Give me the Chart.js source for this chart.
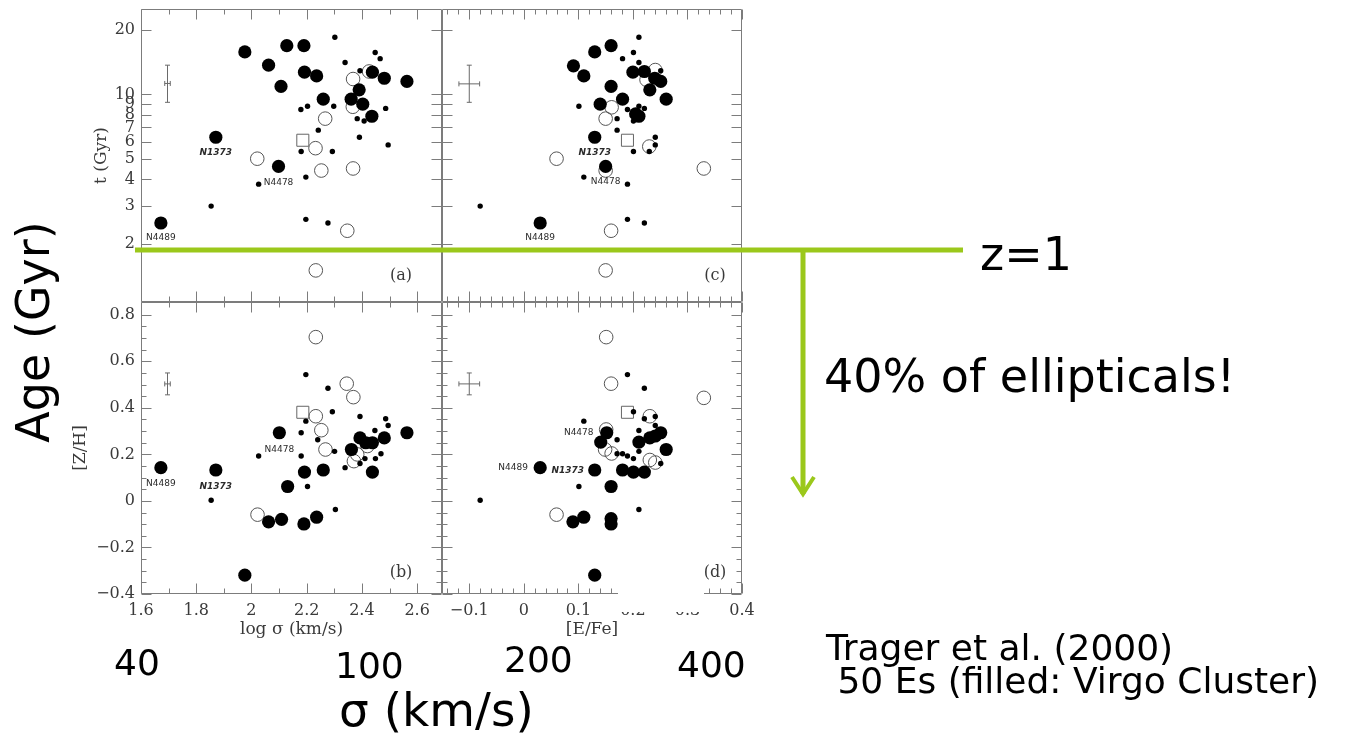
<!DOCTYPE html>
<html>
<head>
<meta charset="utf-8">
<title>Ages of ellipticals – Trager et al. (2000)</title>
<script src="https://cdn.jsdelivr.net/npm/chart.js@4.4.1/dist/chart.umd.min.js"></script>
<style>
  html, body { margin: 0; padding: 0; background: #fff; }
  #page { position: relative; width: 1345px; height: 738px; overflow: hidden; background: #fff; }
  canvas.panel { position: absolute; left: -50px; top: -50px; }
  #mask { position: absolute; left: 618px; top: 583px; width: 86px; height: 29px; background: #fff; }
  #overlay { position: absolute; left: 0; top: 0; }
  .note { position: absolute; font-family: 'DejaVu Sans', sans-serif; color: #000; line-height: 1; white-space: pre; }
</style>
</head>
<body>
<div id="page">
  <canvas id="panel-a" class="panel" width="1445" height="838"></canvas>
  <canvas id="panel-b" class="panel" width="1445" height="838"></canvas>
  <canvas id="panel-c" class="panel" width="1445" height="838"></canvas>
  <canvas id="panel-d" class="panel" width="1445" height="838"></canvas>
  <div id="mask"></div>
  <svg id="overlay" width="1345" height="738">
    <line id="z-line" x1="135" x2="963" stroke="#9bc81b" stroke-width="5"/>
    <line id="z-drop" x1="803" x2="803" y2="494" stroke="#9bc81b" stroke-width="5"/>
    <polyline id="z-head" points="792,477 803,494 814,477" fill="none" stroke="#9bc81b" stroke-width="4"/>
  </svg>
  <div class="note" style="left:980px;top:231px;font-size:46px">z=1</div>
  <div class="note" style="left:824px;top:353px;font-size:46px">40% of ellipticals!</div>
  <div class="note" style="left:826px;top:630px;font-size:36px">Trager et al. (2000)</div>
  <div class="note" style="left:826px;top:663px;font-size:36px"> 50 Es (filled: Virgo Cluster)</div>
  <div class="note" style="left:114px;top:645px;font-size:36px">40</div>
  <div class="note" style="left:335px;top:648px;font-size:36px">100</div>
  <div class="note" style="left:504px;top:642px;font-size:36px">200</div>
  <div class="note" style="left:677px;top:647px;font-size:36px">400</div>
  <div class="note" style="left:339px;top:686px;font-size:47px">σ (km/s)</div>
  <div class="note" style="left:33px;top:332px;font-size:46px;transform:translate(-50%,-50%) rotate(-90deg)">Age (Gyr)</div>
</div>

<script>
/* ─── Axis ticks ─────────────────────────────────────────────────────────── */

const LOGSIG_MAJOR  = [1.6, 1.8, 2.0, 2.2, 2.4, 2.6];
const LOGSIG_LABELS = ['1.6', '1.8', '2', '2.2', '2.4', '2.6'];
const LOGSIG_MINOR  = [1.7, 1.9, 2.1, 2.3, 2.5];

const EFE_MAJOR  = [-0.1, 0, 0.1, 0.2, 0.3, 0.4];
const EFE_LABELS = ['−0.1', '0', '0.1', '0.2', '0.3', '0.4'];
const EFE_MINOR  = [-0.14, -0.12, -0.08, -0.06, -0.04, -0.02, 0.02, 0.04, 0.06, 0.08,
                    0.12, 0.14, 0.16, 0.18, 0.22, 0.24, 0.26, 0.28, 0.32, 0.34, 0.36, 0.38];

const AGE_MAJOR  = [2, 3, 4, 5, 6, 7, 8, 9, 10, 20];
const AGE_LABELS = ['2', '3', '4', '5', '6', '7', '8', '9', '10', '20'];

const ZH_MAJOR  = [-0.4, -0.2, 0, 0.2, 0.4, 0.6, 0.8];
const ZH_LABELS = ['−0.4', '−0.2', '0', '0.2', '0.4', '0.6', '0.8'];
const ZH_MINOR  = [-0.35, -0.3, -0.25, -0.15, -0.1, -0.05, 0.05, 0.1, 0.15, 0.25, 0.3, 0.35,
                   0.45, 0.5, 0.55, 0.65, 0.7, 0.75];

/* ─── Data: (a) log sigma vs age ─────────────────────────────────────────── */

const A_BIG = [[1.976, 15.8], [2.062, 13.7], [2.107, 10.9], [2.128, 16.9], [2.190, 16.9], [2.192, 12.7],
               [2.236, 12.2], [2.260, 9.5], [2.361, 9.5], [2.390, 10.5], [2.403, 9.0], [2.436, 7.9],
               [2.438, 12.7], [2.481, 11.9], [2.563, 11.5], [1.871, 6.3], [2.098, 4.6], [1.672, 2.5]];
const A_SMALL = [[2.302, 18.5], [2.448, 15.7], [2.466, 14.7], [2.339, 14.1], [2.393, 12.9], [2.179, 8.5],
                 [2.203, 8.8], [2.298, 8.8], [2.486, 8.6], [2.383, 7.7], [2.408, 7.5], [2.242, 6.8],
                 [2.391, 6.3], [2.495, 5.8], [2.180, 5.4], [2.293, 5.4], [2.197, 4.1], [2.026, 3.8],
                 [1.854, 3.0], [2.197, 2.6], [2.277, 2.5]];
const A_OPEN = [[2.368, 11.8], [2.426, 12.8], [2.367, 8.75], [2.267, 7.7], [2.232, 5.6], [2.021, 5.0],
                [2.253, 4.4], [2.368, 4.5], [2.347, 2.3], [2.233, 1.5]];
const A_SQUARE = [[2.186, 6.1]];

/* ─── Data: (b) log sigma vs [Z/H] ───────────────────────────────────────── */

const B_BIG = [[1.672, 0.143], [1.871, 0.133], [2.101, 0.293], [2.131, 0.062], [2.062, -0.090], [2.109, -0.079],
               [2.190, -0.099], [2.236, -0.070], [2.192, 0.124], [2.260, 0.133], [1.976, -0.319], [2.362, 0.221],
               [2.393, 0.271], [2.414, 0.250], [2.438, 0.250], [2.481, 0.271], [2.438, 0.124], [2.563, 0.293]];
const B_SMALL = [[2.197, 0.543], [2.277, 0.484], [2.293, 0.383], [2.197, 0.343], [2.180, 0.293], [2.240, 0.263],
                 [2.180, 0.193], [2.026, 0.193], [2.301, 0.213], [2.203, 0.062], [1.854, 0.003], [2.304, -0.037],
                 [2.393, 0.363], [2.486, 0.353], [2.495, 0.324], [2.447, 0.303], [2.469, 0.203], [2.449, 0.182],
                 [2.411, 0.182], [2.393, 0.161], [2.339, 0.143]];
const B_OPEN = [[2.233, 0.704], [2.345, 0.504], [2.369, 0.446], [2.233, 0.364], [2.253, 0.304], [2.268, 0.221],
                [2.371, 0.171], [2.383, 0.200], [2.022, -0.059], [2.420, 0.236]];
const B_SQUARE = [[2.186, 0.381]];

/* ─── Data: (c) [E/Fe] vs age ────────────────────────────────────────────── */

const C_BIG = [[0.091, 13.6], [0.110, 12.2], [0.130, 15.8], [0.160, 16.9], [0.160, 10.9], [0.140, 9.0],
               [0.181, 9.5], [0.200, 12.7], [0.221, 12.8], [0.240, 11.9], [0.251, 11.5], [0.231, 10.5],
               [0.261, 9.5], [0.211, 7.9], [0.130, 6.3], [0.150, 4.6], [0.030, 2.5], [0.205, 8.1]];
const C_SMALL = [[0.211, 18.5], [0.201, 15.7], [0.181, 14.7], [0.211, 14.1], [0.251, 12.9], [0.101, 8.8],
                 [0.190, 8.5], [0.211, 8.8], [0.221, 8.6], [0.171, 7.7], [0.201, 7.5], [0.171, 6.8],
                 [0.241, 6.3], [0.241, 5.8], [0.201, 5.4], [0.230, 5.4], [0.110, 4.1], [0.190, 3.8],
                 [-0.080, 3.0], [0.190, 2.6], [0.221, 2.5]];
const C_OPEN = [[0.241, 13.0], [0.225, 11.7], [0.161, 8.7], [0.150, 7.7], [0.230, 5.7], [0.060, 5.0],
                [0.150, 4.4], [0.330, 4.5], [0.160, 2.3], [0.150, 1.5]];
const C_SQUARE = [[0.190, 6.1]];

/* ─── Data: (d) [E/Fe] vs [Z/H] ──────────────────────────────────────────── */

const D_BIG = [[0.030, 0.143], [0.130, 0.133], [0.152, 0.293], [0.141, 0.253], [0.160, 0.062], [0.090, -0.090],
               [0.110, -0.070], [0.160, -0.076], [0.160, -0.099], [0.130, -0.319], [0.181, 0.133], [0.201, 0.124],
               [0.221, 0.124], [0.211, 0.253], [0.231, 0.271], [0.251, 0.293], [0.241, 0.279], [0.261, 0.221]];
const D_SMALL = [[0.190, 0.543], [0.221, 0.484], [0.201, 0.383], [0.221, 0.353], [0.241, 0.363], [0.110, 0.343],
                 [0.211, 0.303], [0.241, 0.324], [0.171, 0.263], [0.211, 0.213], [0.171, 0.203], [0.181, 0.203],
                 [0.190, 0.193], [0.201, 0.182], [0.251, 0.161], [0.101, 0.062], [-0.080, 0.003], [0.211, -0.037],
                 [0.226, 0.280]];
const D_OPEN = [[0.151, 0.704], [0.160, 0.504], [0.330, 0.443], [0.231, 0.364], [0.151, 0.307], [0.149, 0.221],
                [0.161, 0.204], [0.231, 0.176], [0.241, 0.165], [0.060, -0.059]];
const D_SQUARE = [[0.190, 0.381]];

/* ─── Typical error bars and the z = 1 age ───────────────────────────────── */

const ERR_A = { x: 1.696, y: 11.25, xLo: 1.686, xHi: 1.706, yLo: 9.18, yHi: 13.7 };
const ERR_B = { x: 1.696, y: 0.503, xLo: 1.686, xHi: 1.706, yLo: 0.456, yHi: 0.550 };
const ERR_C = { x: -0.100, y: 11.2, xLo: -0.119, xHi: -0.081, yLo: 9.18, yHi: 13.7 };
const ERR_D = { x: -0.100, y: 0.503, xLo: -0.119, xHi: -0.081, yLo: 0.456, yHi: 0.550 };

const Z1_AGE = 1.87;

/* ─── Styles ─────────────────────────────────────────────────────────────── */

const OFF        = 50;            // canvases overhang the page by this much
const AXIS_COLOR = '#7c7c7c';
const TEXT_COLOR = '#3a3a3a';
const SERIF      = "'DejaVu Serif', serif";
const LABEL_FONT = { family: SERIF, size: 16 };
const TITLE_FONT = { family: SERIF, size: 17 };

const STYLE_SMALL  = { pointRadius: 2.7, pointBackgroundColor: '#000', pointBorderWidth: 0, order: 0 };
const STYLE_BIG    = { pointRadius: 6.6, pointBackgroundColor: '#000', pointBorderWidth: 0, order: 1 };
const STYLE_SQUARE = { pointStyle: 'rect', pointRadius: 8.5, pointBackgroundColor: 'rgba(0,0,0,0)',
                       pointBorderColor: '#666', pointBorderWidth: 1, order: 2 };
const STYLE_OPEN   = { pointRadius: 6.8, pointBackgroundColor: 'rgba(0,0,0,0)',
                       pointBorderColor: '#555', pointBorderWidth: 1, order: 3 };

Chart.defaults.font.family = SERIF;
Chart.defaults.color = TEXT_COLOR;

/* ─── Panel descriptions (ticks, labels, tags) ───────────────────────────── */

const PANELS = {
  'panel-a': {
    xMajor: LOGSIG_MAJOR, xMinor: LOGSIG_MINOR, yMajor: AGE_MAJOR, yMinor: [],
    err: ERR_A, tag: { text: '(a)', dx: -41, dy: -26 },
    names: [
      { text: 'N1373', x: 1.871, y: 6.3, dx: 0, dy: 15, bold: true },
      { text: 'N4478', x: 2.098, y: 4.6, dx: 0, dy: 16 },
      { text: 'N4489', x: 1.672, y: 2.5, dx: 0, dy: 15 },
    ],
  },
  'panel-b': {
    xMajor: LOGSIG_MAJOR, xMinor: LOGSIG_MINOR, yMajor: ZH_MAJOR, yMinor: ZH_MINOR,
    err: ERR_B, tag: { text: '(b)', dx: -41, dy: -21 },
    names: [
      { text: 'N4489', x: 1.672, y: 0.143, dx: 0, dy: 16 },
      { text: 'N1373', x: 1.871, y: 0.133, dx: 0, dy: 17, bold: true },
      { text: 'N4478', x: 2.101, y: 0.293, dx: 0, dy: 17 },
    ],
  },
  'panel-c': {
    xMajor: EFE_MAJOR, xMinor: EFE_MINOR, yMajor: AGE_MAJOR, yMinor: [],
    err: ERR_C, tag: { text: '(c)', dx: -27, dy: -26 },
    names: [
      { text: 'N1373', x: 0.130, y: 6.3, dx: 0, dy: 15, bold: true },
      { text: 'N4478', x: 0.150, y: 4.6, dx: 0, dy: 15 },
      { text: 'N4489', x: 0.030, y: 2.5, dx: 0, dy: 15 },
    ],
  },
  'panel-d': {
    xMajor: EFE_MAJOR, xMinor: EFE_MINOR, yMajor: ZH_MAJOR, yMinor: ZH_MINOR,
    err: ERR_D, tag: { text: '(d)', dx: -27, dy: -21 },
    names: [
      { text: 'N4478', x: 0.152, y: 0.293, dx: -28, dy: 0 },
      { text: 'N4489', x: 0.030, y: 0.143, dx: -27, dy: 0 },
      { text: 'N1373', x: 0.130, y: 0.133, dx: -27, dy: 1, bold: true },
    ],
  },
};

/* ─── Plugin: frame, inward ticks, error bar, names ──────────────────────── */

const panelDecor = {
  id: 'panelDecor',
  beforeDatasetsDraw(chart) {
    const spec = PANELS[chart.canvas.id];
    const { ctx, chartArea: a, scales: { x, y } } = chart;
    const L = a.left + 0.5, R = a.right - 0.5, T = a.top + 0.5, B = a.bottom - 0.5;

    ctx.save();
    ctx.strokeStyle = AXIS_COLOR;
    ctx.lineWidth = 1;
    ctx.beginPath();
    ctx.rect(L, T, R - L, B - T);

    const xMark = (v, len) => {
      const px = Math.round(x.getPixelForValue(v)) + 0.5;
      ctx.moveTo(px, B); ctx.lineTo(px, B - len);
      ctx.moveTo(px, T); ctx.lineTo(px, T + len);
    };
    const yMark = (v, len) => {
      const py = Math.round(y.getPixelForValue(v)) + 0.5;
      ctx.moveTo(L, py); ctx.lineTo(L + len, py);
      ctx.moveTo(R, py); ctx.lineTo(R - len, py);
    };
    spec.xMajor.forEach(v => xMark(v, 10));
    spec.xMinor.forEach(v => xMark(v, 5));
    spec.yMajor.forEach(v => yMark(v, 10));
    spec.yMinor.forEach(v => yMark(v, 5));
    ctx.stroke();

    // typical error bar
    const e  = spec.err;
    const cx = x.getPixelForValue(e.x), cy = y.getPixelForValue(e.y);
    const x0 = x.getPixelForValue(e.xLo), x1 = x.getPixelForValue(e.xHi);
    const y0 = y.getPixelForValue(e.yLo), y1 = y.getPixelForValue(e.yHi);
    ctx.strokeStyle = '#6a6a6a';
    ctx.beginPath();
    ctx.moveTo(cx, y0); ctx.lineTo(cx, y1);
    ctx.moveTo(cx - 2.5, y0); ctx.lineTo(cx + 2.5, y0);
    ctx.moveTo(cx - 2.5, y1); ctx.lineTo(cx + 2.5, y1);
    ctx.moveTo(x0, cy); ctx.lineTo(x1, cy);
    ctx.moveTo(x0, cy - 2.5); ctx.lineTo(x0, cy + 2.5);
    ctx.moveTo(x1, cy - 2.5); ctx.lineTo(x1, cy + 2.5);
    ctx.stroke();
    ctx.restore();
  },
  afterDatasetsDraw(chart) {
    const spec = PANELS[chart.canvas.id];
    const { ctx, chartArea: a, scales: { x, y } } = chart;
    ctx.save();
    ctx.textAlign = 'center';
    ctx.textBaseline = 'middle';
    ctx.fillStyle = '#2a2a2a';
    spec.names.forEach(n => {
      ctx.font = n.bold ? "italic bold 9px 'DejaVu Sans'" : "9px 'DejaVu Sans'";
      ctx.fillText(n.text, x.getPixelForValue(n.x) + n.dx, y.getPixelForValue(n.y) + n.dy);
    });
    ctx.font = `16px ${SERIF}`;
    ctx.fillStyle = TEXT_COLOR;
    ctx.fillText(spec.tag.text, a.right + spec.tag.dx, a.bottom + spec.tag.dy);
    ctx.restore();
  },
};

/* ─── Helpers ────────────────────────────────────────────────────────────── */

function toXY(pairs) {
  return pairs.map(([x, y]) => ({ x, y }));
}

function datasets(small, big, square, open) {
  return [
    { label: 'small', data: toXY(small), ...STYLE_SMALL },
    { label: 'filled', data: toXY(big), ...STYLE_BIG },
    { label: 'square', data: toXY(square), ...STYLE_SQUARE },
    { label: 'open', data: toXY(open), ...STYLE_OPEN },
  ];
}

function axis({ type = 'linear', min, max, major, labels, show = false, title = '', size = 0, isY = false }) {
  return {
    type, min, max,
    display: show,
    afterBuildTicks: s => { s.ticks = major.map(v => ({ value: v })); },
    afterFit: s => { if (isY) s.width = size; else s.height = size; },
    grid:   { display: false, drawTicks: false },
    border: { display: false },
    ticks: {
      autoSkip: false, maxRotation: 0, minRotation: 0,
      padding: isY ? 6 : 7,
      color: TEXT_COLOR, font: LABEL_FONT,
      callback: (v, i) => labels[i] ?? '',
    },
    title: { display: !!title, text: title, padding: 0, color: TEXT_COLOR, font: TITLE_FONT },
  };
}

const SIG_RANGE = { min: 1.6, max: 2.69 };
const EFE_RANGE = { min: -0.15, max: 0.4 };
const AGE_RANGE = { type: 'logarithmic', min: 1.067, max: 25.1 };
const ZH_RANGE  = { min: -0.4, max: 0.855 };

function makePanel(id, data, padding, xAxis, yAxis) {
  return new Chart(document.getElementById(id), {
    type: 'scatter',
    data: { datasets: data },
    options: {
      responsive: false,
      animation: false,
      devicePixelRatio: 1,
      layout: { padding },
      plugins: { legend: { display: false }, tooltip: { enabled: false } },
      scales: { x: xAxis, y: yAxis },
    },
    plugins: [panelDecor],
  });
}

/* ─── Build the four panels ──────────────────────────────────────────────── */

const chartA = makePanel('panel-a',
  datasets(A_SMALL, A_BIG, A_SQUARE, A_OPEN),
  { left: 141, top: 59, right: 953, bottom: 486 },
  axis({ ...SIG_RANGE, major: LOGSIG_MAJOR, labels: [] }),
  axis({ ...AGE_RANGE, major: AGE_MAJOR, labels: AGE_LABELS, show: true, title: 't (Gyr)', size: 50, isY: true }));

makePanel('panel-b',
  datasets(B_SMALL, B_BIG, B_SQUARE, B_OPEN),
  { left: 120, top: 352, right: 953, bottom: 148 },
  axis({ ...SIG_RANGE, major: LOGSIG_MAJOR, labels: LOGSIG_LABELS, show: true, title: 'log σ (km/s)', size: 46 }),
  axis({ ...ZH_RANGE, major: ZH_MAJOR, labels: ZH_LABELS, show: true, title: '[Z/H]', size: 71, isY: true }));

makePanel('panel-c',
  datasets(C_SMALL, C_BIG, C_SQUARE, C_OPEN),
  { left: 492, top: 59, right: 653, bottom: 486 },
  axis({ ...EFE_RANGE, major: EFE_MAJOR, labels: [] }),
  axis({ ...AGE_RANGE, major: AGE_MAJOR, labels: [] }));

makePanel('panel-d',
  datasets(D_SMALL, D_BIG, D_SQUARE, D_OPEN),
  { left: 492, top: 352, right: 653, bottom: 148 },
  axis({ ...EFE_RANGE, major: EFE_MAJOR, labels: EFE_LABELS, show: true, title: '[E/Fe]', size: 46 }),
  axis({ ...ZH_RANGE, major: ZH_MAJOR, labels: [] }));

/* ─── z = 1 marker, placed on panel (a)'s age scale ──────────────────────── */

const zy = chartA.scales.y.getPixelForValue(Z1_AGE) - OFF;
document.getElementById('z-line').setAttribute('y1', zy);
document.getElementById('z-line').setAttribute('y2', zy);
document.getElementById('z-drop').setAttribute('y1', zy);
</script>
</body>
</html>
